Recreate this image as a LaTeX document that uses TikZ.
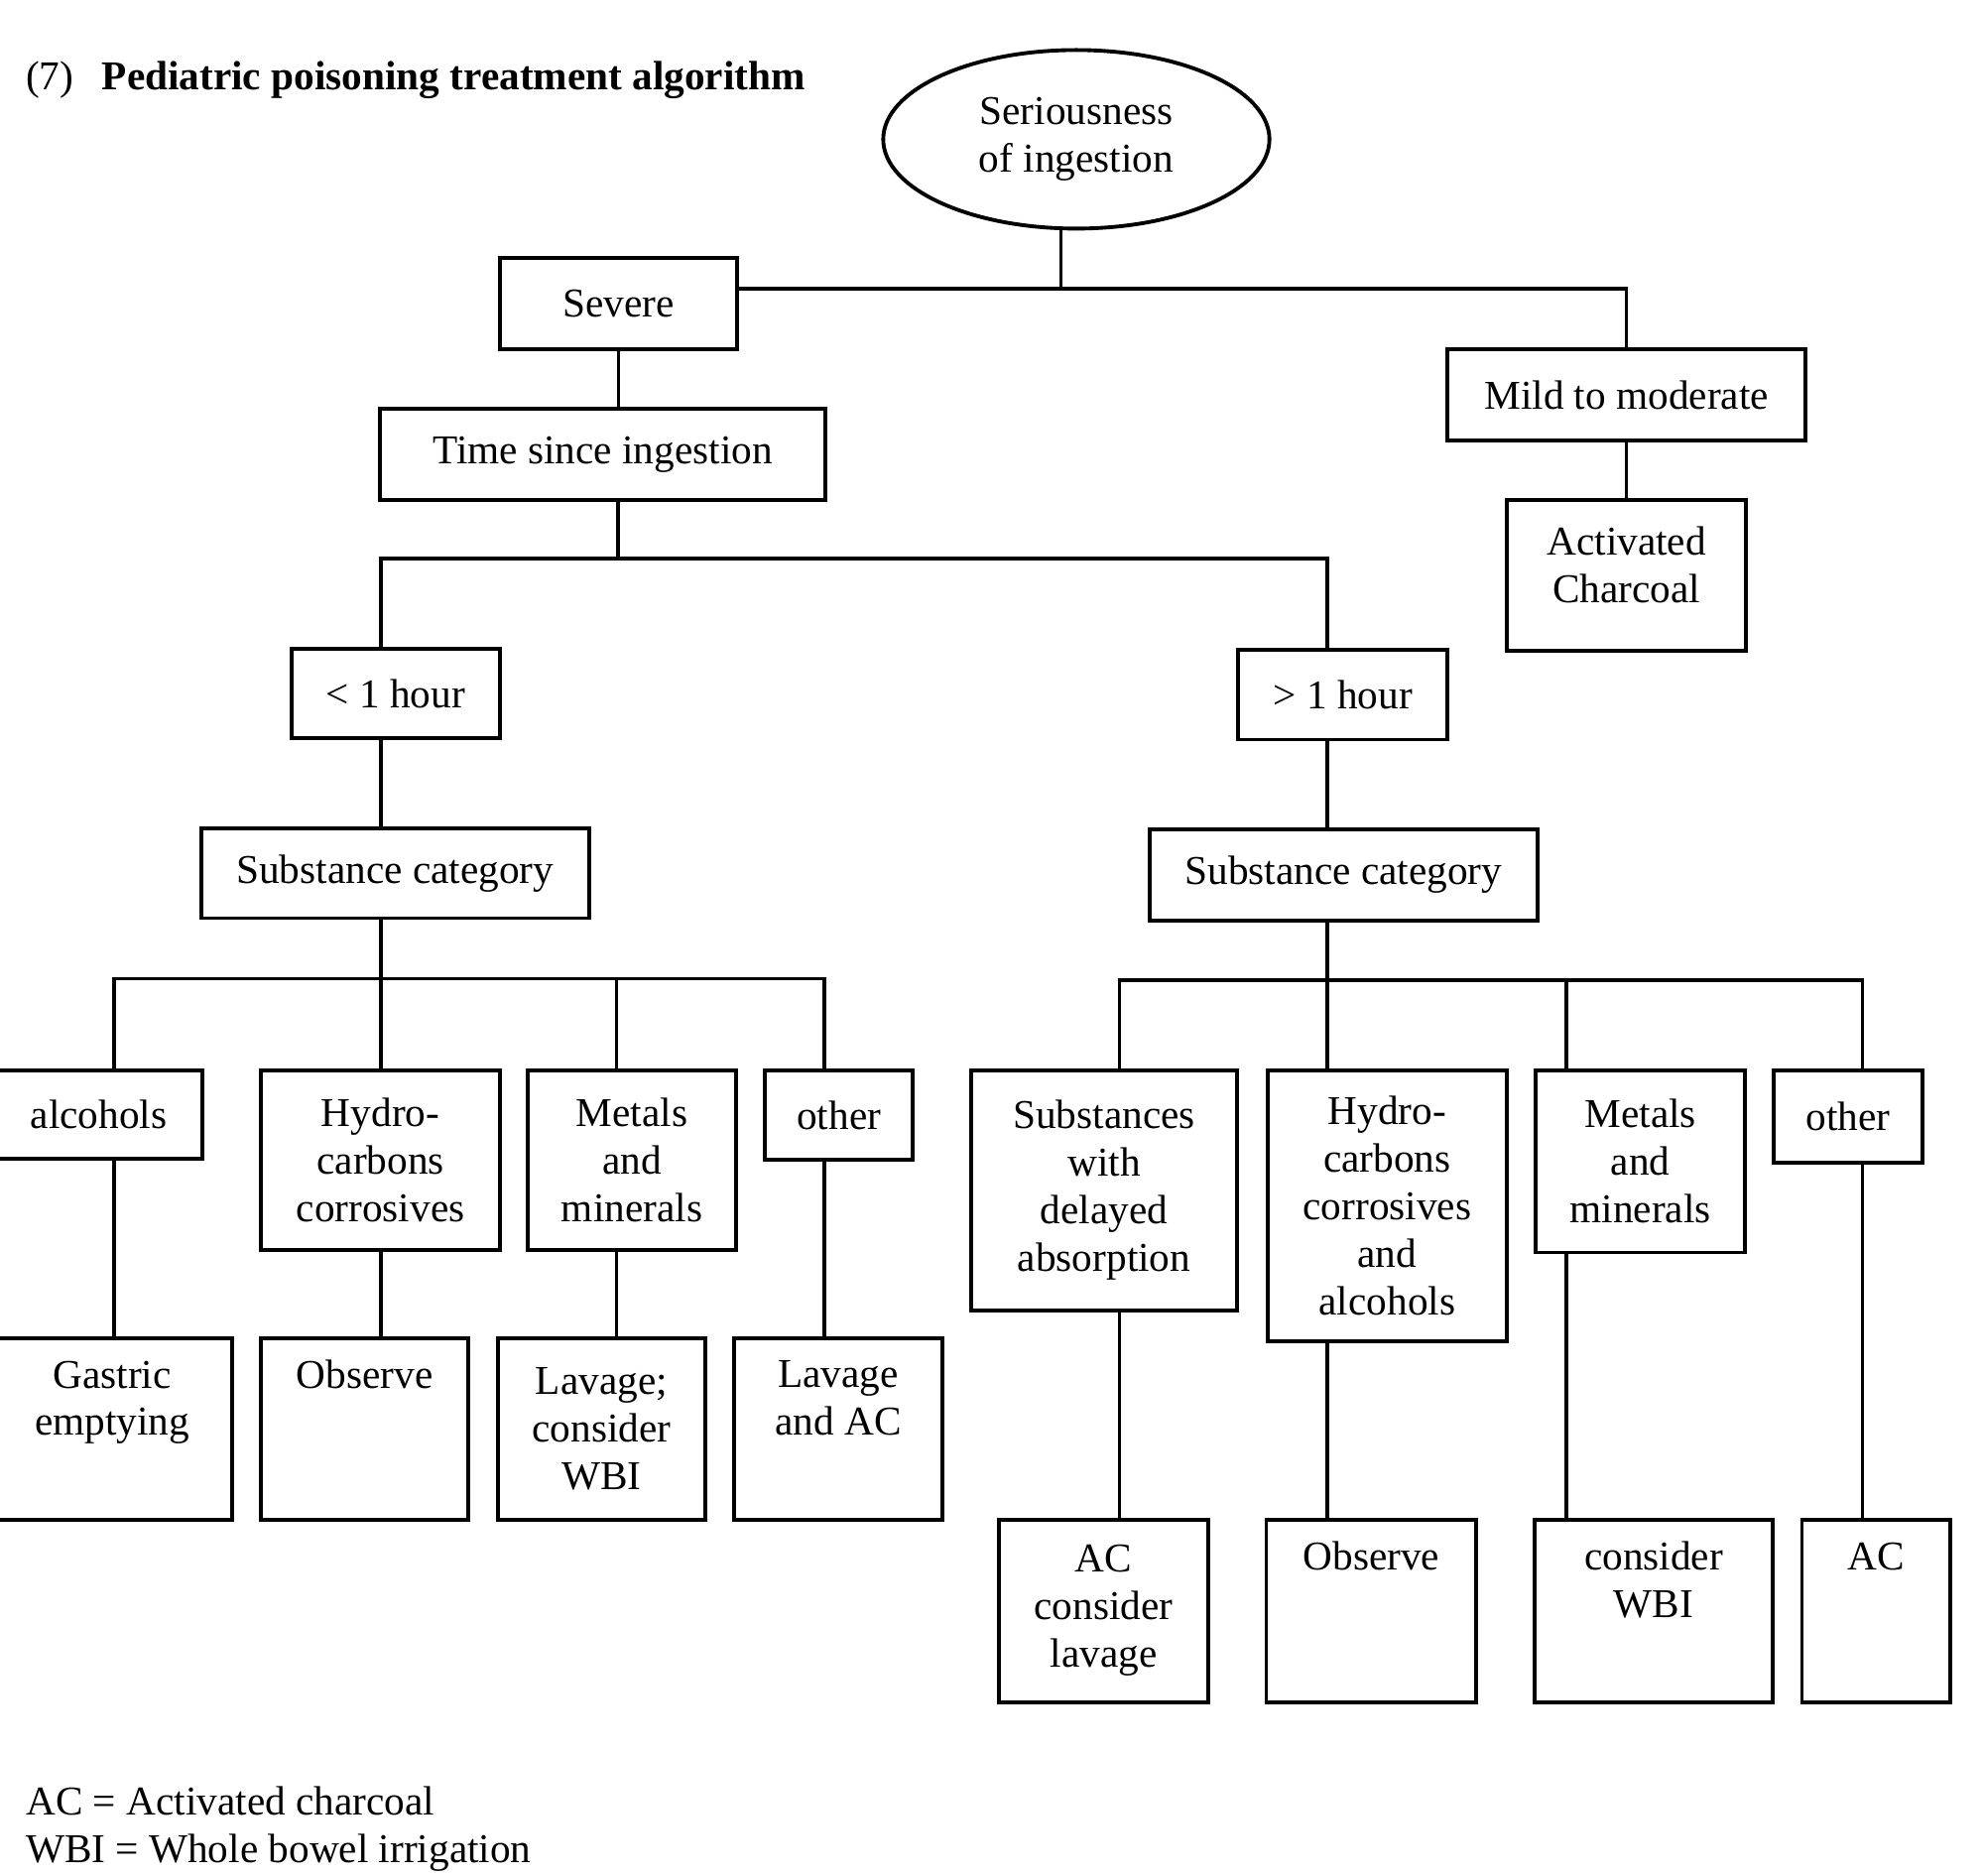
\documentclass[tikz,border=0pt]{standalone}
\usepackage{fontspec}
\setmainfont{Liberation Serif}
\usetikzlibrary{shapes.geometric}
\newcommand{\unitpx}{0.012765cm}
\newcommand{\fsz}{\fontsize{11.75}{13.65}\selectfont}
\begin{document}
\begin{tikzpicture}[x=0.012765cm, y=-0.012765cm,
  bx/.style={draw, line width=1.1pt, inner sep=0pt, align=center, font=\fsz},
  sz/.style 2 args={minimum width=#1*\unitpx, minimum height=#2*\unitpx},
  cn/.style={line width=1pt},
  txt/.style={inner sep=0pt, font=\fsz, anchor=base west}]
\useasboundingbox (0,0) rectangle (1566.8,1481.4);

% title and notes
\node[txt] (t7) at (20,71) {(7)};
\node[txt] (title) at (80,71) {\textbf{Pediatric poisoning treatment algorithm}};
\node[txt] (fn1) at (20,1433) {AC = Activated charcoal};
\node[txt] (fn2) at (20,1471) {WBI = Whole bowel irrigation};

% top
\node[draw, ellipse, line width=1.1pt, minimum width=305*\unitpx, minimum height=141*\unitpx,
      inner sep=0pt, align=center, font=\fsz] (ell) at (850,110) {Seriousness\\of ingestion};
\node[bx, sz={187}{72}] (sev) at (488.5,240) {Severe};
\node[bx, sz={352}{72}] (time) at (476,359) {Time since ingestion};
\node[bx, sz={283}{72}] (mild) at (1284.5,312) {Mild to moderate};
\node[bx, sz={189}{119}, text depth=6pt] (ac0) at (1284.5,454.5) {Activated\\Charcoal};
\node[bx, sz={165}{71}] (lt1) at (312.5,547.5) {< 1 hour};
\node[bx, sz={165}{71}] (gt1) at (1060.5,548.5) {> 1 hour};
\node[bx, sz={306}{71}] (subL) at (312,689.5) {Substance category};
\node[bx, sz={306}{72}] (subR) at (1061,691) {Substance category};

% left middle
\node[bx, sz={164}{70}] (alc) at (78,880) {alcohols};
\node[bx, sz={189}{142}] (hydL) at (300.5,916) {Hydro-\\carbons\\corrosives};
\node[bx, sz={164}{142}] (metL) at (499,916) {Metals\\and\\minerals};
\node[bx, sz={117}{71}] (othL) at (662.5,880.5) {other};

% left bottom
\node[bx, sz={189}{143}] (gas) at (88.5,1128.5) {Gastric\\emptying\\\strut};
\node[bx, sz={164}{143}] (obsL) at (288,1128.5) {Observe\\\strut\\\strut};
\node[bx, sz={164}{143}] (lavL) at (475,1128.5) {Lavage;\\consider\\WBI};
\node[bx, sz={164}{143}] (lacL) at (662,1128.5) {Lavage\\and AC\\\strut};

% right middle
\node[bx, sz={210}{190}] (subst) at (872,940) {Substances\\with\\delayed\\absorption};
\node[bx, sz={189}{214}] (hydR) at (1095.5,952) {Hydro-\\carbons\\corrosives\\and\\alcohols};
\node[bx, sz={165}{144}] (metR) at (1295.5,917) {Metals\\and\\minerals};
\node[bx, sz={117}{73}] (othR) at (1459.5,881.5) {other};

% right bottom
\node[bx, sz={165}{144}] (acl) at (871.5,1272) {AC\\consider\\lavage};
\node[bx, sz={166}{144}] (obsR) at (1083,1272) {Observe\\\strut\\\strut};
\node[bx, sz={188}{144}] (wbiR) at (1306,1272) {consider\\WBI\\\strut};
\node[bx, sz={117}{144}] (acR) at (1481.5,1272) {AC\\\strut\\\strut};

% connectors: top
\coordinate (j0) at (838,228);
\draw[cn] (j0 |- ell.south) -- (j0);
\draw[cn] (sev.east |- j0) -- (j0 -| mild.north) -- (mild.north);
\draw[cn] (mild.south) -- (ac0.north);
\draw[cn] (sev.south) -- (sev.south |- time.north);
\coordinate (j1) at (488,441);
\draw[cn] (j1 |- time.south) -- (j1);
\coordinate (bL) at (301,441);
\coordinate (bR) at (1048,441);
\draw[cn] (bL |- lt1.north) -- (bL) -- (bR) -- (bR |- gt1.north);
\draw[cn] (bL |- lt1.south) -- (bL |- subL.north);
\draw[cn] (bR |- gt1.south) -- (bR |- subR.north);

% left subtree
\coordinate (kL) at (301,773);
\draw[cn] (kL |- subL.south) -- (kL);
\coordinate (a1) at (90,773);
\coordinate (a2) at (301,773);
\coordinate (a3) at (487,773);
\coordinate (a4) at (651,773);
\draw[cn] (a1 |- alc.north) -- (a1) -- (a4) -- (a4 |- othL.north);
\draw[cn] (a2) -- (a2 |- hydL.north);
\draw[cn] (a3) -- (a3 |- metL.north);
\draw[cn] (a1 |- alc.south) -- (a1 |- gas.north);
\draw[cn] (a2 |- hydL.south) -- (a2 |- obsL.north);
\draw[cn] (a3 |- metL.south) -- (a3 |- lavL.north);
\draw[cn] (a4 |- othL.south) -- (a4 |- lacL.north);

% right subtree
\coordinate (kR) at (1048,774);
\draw[cn] (kR |- subR.south) -- (kR);
\coordinate (b1) at (884,774);
\coordinate (b2) at (1048,774);
\coordinate (b3) at (1237,774);
\coordinate (b4) at (1471,774);
\draw[cn] (b1 |- subst.north) -- (b1) -- (b4) -- (b4 |- othR.north);
\draw[cn] (b2) -- (b2 |- hydR.north);
\draw[cn] (b3) -- (b3 |- metR.north);
\draw[cn] (b1 |- subst.south) -- (b1 |- acl.north);
\draw[cn] (b2 |- hydR.south) -- (b2 |- obsR.north);
\draw[cn] (b3 |- metR.south) -- (b3 |- wbiR.north);
\draw[cn] (b4 |- othR.south) -- (b4 |- acR.north);
\end{tikzpicture}
\end{document}
